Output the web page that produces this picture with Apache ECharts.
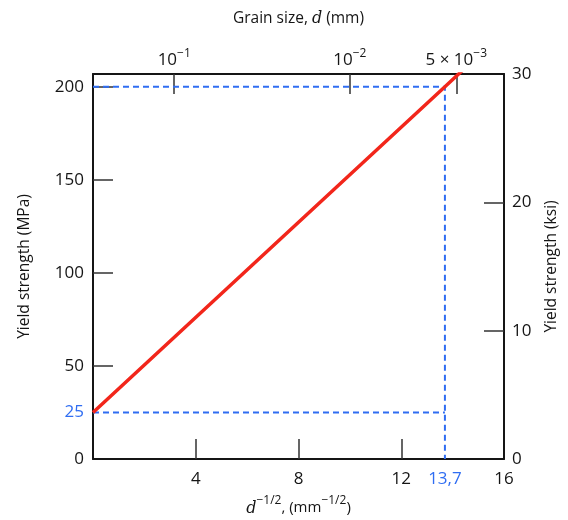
<!DOCTYPE html>
<html>
<head>
<meta charset="utf-8">
<script src="https://cdn.jsdelivr.net/npm/echarts@6/dist/echarts.min.js"></script>
<style>
  html, body { margin: 0; padding: 0; background: #fff; }
  #chart { width: 568px; height: 520px; }
</style>
</head>
<body>
<div id="chart"></div>
<script>
// Hall–Petch relation: yield strength versus d^(-1/2)
const invSqrtD = [0, 13.7, 14.4];          // d^-1/2 (mm^-1/2)
const yieldMPa = [25, 200, 209];           // yield strength (MPa)

// Reading guides for the worked example
const guideX = 13.7;                        // d^-1/2 at 200 MPa
const guideY = 200;                         // target strength (MPa)
const interceptY = 25;                      // sigma_0 (MPa)

// Bottom axis ticks / labels
const bottomTicks = [4, 8, 12];
const bottomLabels = [4, 8, 12, 13.7, 16];
// Left axis (MPa)
const leftTicks = [50, 100, 150, 200];
const leftLabels = [0, 25, 50, 100, 150, 200];
const mpaMax = 206.84;                      // = 30 ksi
// Right axis (ksi)
const rightTicks = [10, 20];
const rightLabels = [0, 10, 20, 30];
// Top axis: grain size d (mm) placed at d^-1/2
const grainSizes = [0.1, 0.01, 0.005];
const grainTickPos = [3.1623, 10, 14.1421];
const grainLabels = ['{b|10}{s|−1}', '{b|10}{s|−2}', '{b|5 × 10}{s|−3}'];

const INK = '#151515';
const BLUE = '#2f6df2';
const RED = '#f2261b';
const FONT = 'Open Sans';

const chart = echarts.init(document.getElementById('chart'), null, { renderer: 'canvas' });

const lineAxis = { show: true, onZero: false, lineStyle: { color: INK, width: 2 } };
const tickStyle = { color: '#333', width: 1.5 };
const labelBase = { color: INK, fontSize: 17, fontFamily: FONT };

chart.setOption({
  animation: false,
  backgroundColor: '#fff',
  grid: { left: 93, right: 64, top: 74, bottom: 61, containLabel: false, outerBoundsMode: 'none' },
  xAxis: [
    {
      type: 'value', position: 'bottom', min: 0, max: 16,
      axisLine: lineAxis,
      axisTick: { show: true, inside: true, length: 20, lineStyle: tickStyle, customValues: bottomTicks },
      axisLabel: Object.assign({}, labelBase, {
        margin: 12,
        customValues: bottomLabels,
        formatter: v => v === guideX ? '{bl|13,7}' : String(v),
        rich: { bl: { color: BLUE, fontSize: 17, fontFamily: FONT } }
      }),
      splitLine: { show: false },
      name: '{i|d}{sup|−1/2}{n|, (mm}{sup|−1/2}{n|)}',
      nameLocation: 'middle', nameGap: 36,
      nameTextStyle: {
        rich: {
          i: { fontFamily: 'DejaVu Serif', fontStyle: 'italic', fontSize: 16, color: INK, lineHeight: 22, verticalAlign: 'bottom' },
          n: { fontFamily: FONT, fontSize: 15, color: INK, lineHeight: 22, verticalAlign: 'bottom', padding: [0, 0, 2, 0] },
          sup: { fontFamily: FONT, fontSize: 12, color: INK, lineHeight: 22, verticalAlign: 'top' }
        }
      }
    },
    {
      type: 'value', position: 'top', min: 0, max: 16,
      axisLine: lineAxis,
      axisTick: { show: true, inside: true, length: 20, lineStyle: tickStyle, customValues: grainTickPos },
      axisLabel: Object.assign({}, labelBase, {
        margin: 5,
        customValues: grainTickPos,
        formatter: v => grainLabels[grainTickPos.indexOf(v)],
        rich: {
          b: { fontFamily: FONT, fontSize: 17, color: INK, lineHeight: 21, verticalAlign: 'bottom' },
          s: { fontFamily: FONT, fontSize: 12, color: INK, lineHeight: 21, verticalAlign: 'top' }
        }
      }),
      splitLine: { show: false },
      name: '{n|Grain size, }{i|d}{n| (mm)}',
      nameLocation: 'middle', nameGap: 47,
      nameTextStyle: {
        rich: {
          n: { fontFamily: FONT, fontSize: 15.5, color: INK },
          i: { fontFamily: 'DejaVu Serif', fontStyle: 'italic', fontSize: 16, color: INK }
        }
      }
    }
  ],
  yAxis: [
    {
      type: 'value', position: 'left', min: 0, max: mpaMax,
      axisLine: lineAxis,
      axisTick: { show: true, inside: true, length: 20, lineStyle: tickStyle, customValues: leftTicks },
      axisLabel: Object.assign({}, labelBase, {
        margin: 9,
        customValues: leftLabels,
        formatter: v => v === interceptY ? '{bl|25}' : String(v),
        rich: { bl: { color: BLUE, fontSize: 17, fontFamily: FONT } }
      }),
      splitLine: { show: false },
      name: 'Yield strength (MPa)',
      nameLocation: 'middle', nameGap: 60, nameRotate: 90,
      nameTextStyle: { color: INK, fontSize: 15.5, fontFamily: FONT }
    },
    {
      type: 'value', position: 'right', min: 0, max: 30,
      axisLine: lineAxis,
      axisTick: { show: true, inside: true, length: 20, lineStyle: tickStyle, customValues: rightTicks },
      axisLabel: Object.assign({}, labelBase, { margin: 8, customValues: rightLabels }),
      splitLine: { show: false },
      name: 'Yield strength (ksi)',
      nameLocation: 'middle', nameGap: 40, nameRotate: 90,
      nameTextStyle: { color: INK, fontSize: 15.5, fontFamily: FONT }
    }
  ],
  series: [
    {
      type: 'line', xAxisIndex: 0, yAxisIndex: 0, symbol: 'none', clip: true, z: 3,
      data: [[0, interceptY], [guideX, interceptY]],
      lineStyle: { color: BLUE, width: 2, type: [6, 4] }
    },
    {
      type: 'line', xAxisIndex: 0, yAxisIndex: 0, symbol: 'none', clip: true, z: 3,
      data: [[0, guideY], [guideX, guideY], [guideX, 0]],
      lineStyle: { color: BLUE, width: 2, type: [6, 4] }
    },
    {
      type: 'line', xAxisIndex: 0, yAxisIndex: 0, symbol: 'none', clip: true, z: 4,
      data: invSqrtD.map((x, i) => [x, yieldMPa[i]]),
      lineStyle: { color: RED, width: 3.5 }
    }
  ]
});
</script>
</body>
</html>
